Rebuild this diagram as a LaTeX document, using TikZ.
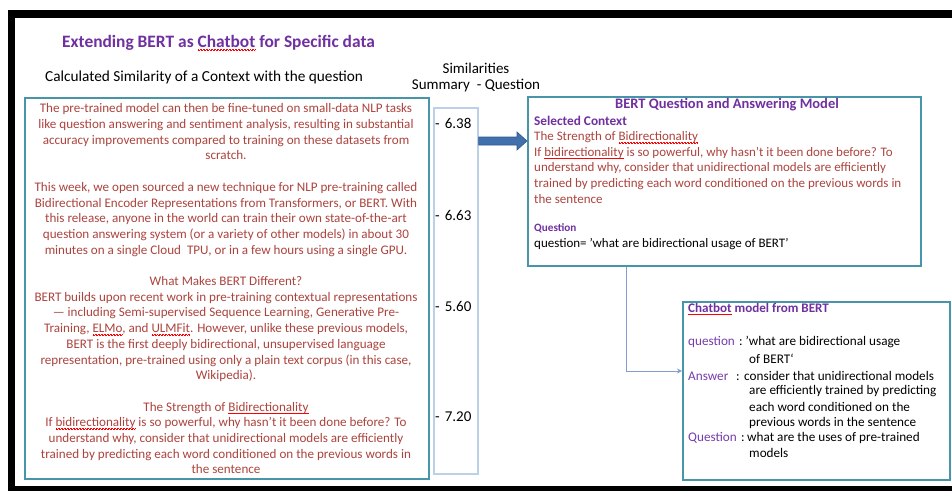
\documentclass[tikz,border=0pt]{standalone}
\usepackage{fontspec}
\setmainfont{Carlito}
\usetikzlibrary{arrows.meta,calc}

\definecolor{headpurple}{RGB}{112,48,160}
\definecolor{labelpurple}{RGB}{120,60,170}
\definecolor{ctxred}{RGB}{172,68,62}
\definecolor{boxteal}{RGB}{72,148,168}
\definecolor{simblue}{RGB}{188,208,232}
\definecolor{arrowfill}{RGB}{66,112,172}
\definecolor{arrowedge}{RGB}{48,88,145}
\definecolor{linkblue}{RGB}{128,158,206}

% red wavy spell-check underline
\newsavebox\squigbox
\newlength\squigw
\newcommand\squig[1]{\sbox\squigbox{#1}\setlength\squigw{\wd\squigbox}%
  \rlap{\raisebox{-2.6pt}{\textcolor{red}{\hbox to\squigw{\xleaders\hbox{\rule{0.75pt}{0.45pt}\rule[0.6pt]{0.75pt}{0.45pt}}\hfill}}}}#1}

% one labelled row of the chatbot dialogue: label, colon offset, text offset, text
\newcommand\chatrow[4]{\rlap{\textcolor{labelpurple}{#1}}\hspace*{#2}\rlap{:}\hspace*{\dimexpr#3-#2\relax}#4}

\begin{document}
\begin{tikzpicture}[x=1pt,y=-1pt,
  tealbox/.style={draw=boxteal, line width=1.6pt, inner sep=0pt},
  simbox/.style={draw=simblue, line width=1.6pt, inner sep=0pt},
  ctxtext/.style={inner sep=0pt, align=center, text=ctxred, font=\fontsize{13.1}{15.7}\selectfont},
  redtext/.style={inner sep=0pt, align=left, text=ctxred, font=\fontsize{13}{15.6}\selectfont},
  headtext/.style={inner sep=0pt, text=headpurple, font=\fontsize{14.5}{17}\selectfont\bfseries},
  plaintext/.style={inner sep=0pt, text=black, font=\fontsize{15}{18}\selectfont},
  chattext/.style={inner sep=0pt, text=black, anchor=west, font=\fontsize{13.2}{15.6}\selectfont},
  simval/.style={inner sep=0pt, text=black, anchor=west, font=\fontsize{15}{18}\selectfont}]

\useasboundingbox (0,0) rectangle (952,491);
\fill[white] (0,0) rectangle (952,491);

% black frame
\fill[black] (8,10) rectangle (952,18);
\fill[black] (8,10) rectangle (15,491);
\fill[black] (8,486) rectangle (952,491);

% headings
\node[headtext, anchor=west, font=\fontsize{17.4}{20}\selectfont\bfseries] (title) at (62,43)
  {Extending BERT as \squig{Chatbot} for Specific data};
\node[plaintext, anchor=west, font=\fontsize{15.3}{18}\selectfont] (calc) at (45,77)
  {Calculated Similarity of a Context with the question};
\node[plaintext] (simhead) at (476,68) {Similarities};
\node[plaintext] (simsub) at (476,86) {Summary\ \ - Question};

% context box
\node[tealbox, anchor=north west, minimum width=404pt, minimum height=381pt] (ctx) at (24,97) {};
\node[ctxtext, anchor=north] (ctxtxt) at (226,103.5) {%
The pre-trained model can then be fine-tuned on small-data NLP tasks\\
like question answering and sentiment analysis, resulting in substantial\\
accuracy improvements compared to training on these datasets from\\
scratch.\\[15.7pt]
This week, we open sourced a new technique for NLP pre-training called\\
Bidirectional Encoder Representations from Transformers, or BERT. With\\
this release, anyone in the world can train their own state-of-the-art\\
question answering system (or a variety of other models) in about 30\\
minutes on a single Cloud\ \ TPU, or in a few hours using a single GPU.\\[15.7pt]
What Makes BERT Different?\\
BERT builds upon recent work in pre-training contextual representations\\
— including Semi-supervised Sequence Learning, Generative Pre-\\
Training, \squig{ELMo}, and \squig{ULMFit}. However, unlike these previous models,\\
BERT is the first deeply bidirectional, unsupervised language\\
representation, pre-trained using only a plain text corpus (in this case,\\
Wikipedia).\\[15.7pt]
The Strength of \squig{Bidirectionality}\\
If \squig{bidirectionality} is so powerful, why hasn’t it been done before? To\\
understand why, consider that unidirectional models are efficiently\\
trained by predicting each word conditioned on the previous words in\\
the sentence};

% similarity scores
\node[simbox, anchor=north west, minimum width=44pt, minimum height=366pt] (sim) at (433,107) {};
\node[simval] (s1) at (435,123) {-\hspace{5pt}6.38};
\node[simval] (s2) at (435,215) {-\hspace{5pt}6.63};
\node[simval] (s3) at (435,306) {-\hspace{5pt}5.60};
\node[simval] (s4) at (435,417) {-\hspace{5pt}7.20};

% BERT QA box
\node[tealbox, anchor=north west, minimum width=393pt, minimum height=169pt] (bert) at (527,96) {};
\node[headtext] (berttitle) at (727,105) {BERT Question and Answering Model};
\node[headtext, anchor=west, font=\fontsize{13.3}{16}\selectfont\bfseries] (sel) at (534,121) {Selected Context};
\node[redtext, anchor=north west] (seltxt) at (534,131.5) {%
The Strength of \squig{Bidirectionality}\\
If \squig{bidirectionality} is so powerful, why hasn’t it been done before? To\\
understand why, consider that unidirectional models are efficiently\\
trained by predicting each word conditioned on the previous words in\\
the sentence};
\node[headtext, anchor=west, font=\fontsize{11.2}{13}\selectfont\bfseries] (qhead) at (534,228) {Question};
\node[chattext, font=\fontsize{13}{15}\selectfont] (qline) at (534,244)
  {question= 'what are bidirectional usage of BERT'};

% block arrow from scores to QA model
\path (sim.east |- 0,141) coordinate (arrS) (bert.west |- 0,141) coordinate (arrE);
\filldraw[fill=arrowfill, draw=arrowedge, line width=0.6pt, line join=miter]
  ($(arrS)+(0,-4)$) -- ($(arrE)+(-10,-4)$) -- ($(arrE)+(-10,-9)$) -- (arrE)
  -- ($(arrE)+(-10,9)$) -- ($(arrE)+(-10,4)$) -- ($(arrS)+(0,4)$) -- cycle;

% chatbot box
\node[tealbox, anchor=north west, minimum width=267pt, minimum height=178pt] (chat) at (682,301) {};
\node[headtext, anchor=west, font=\fontsize{13.1}{15}\selectfont\bfseries] (chathead) at (688,309)
  {\squig{Chatbot} model from BERT};
\node[chattext] (c1) at (688,342) {\chatrow{question}{51pt}{57.5pt}{'what are bidirectional usage}};
\node[chattext] (c2) at (749,359) {of BERT‘};
\node[chattext] (c3) at (688,376) {\chatrow{Answer}{48pt}{56pt}{consider that unidirectional models}};
\node[chattext] (c4) at (749,391) {are efficiently trained by predicting};
\node[chattext] (c5) at (749,407) {each word conditioned on the};
\node[chattext] (c6) at (749,423) {previous words in the sentence};
\node[chattext] (c7) at (688,438) {\chatrow{Question}{53pt}{59pt}{what are the uses of pre-trained}};
\node[chattext] (c8) at (749,453) {models};

% link from QA model to chatbot
\draw[linkblue, line width=1pt, -{Stealth[length=5pt,width=5pt]}]
  (bert.south -| 626,0) |- (chat.west |- 0,371);

\end{tikzpicture}
\end{document}
